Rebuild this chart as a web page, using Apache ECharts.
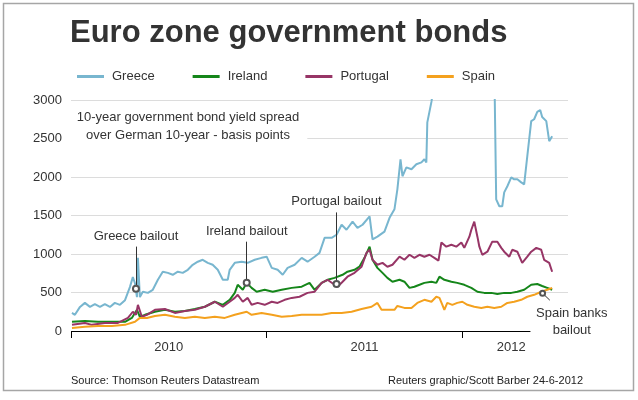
<!DOCTYPE html>
<html>
<head>
<meta charset="utf-8">
<title>Euro zone government bonds</title>
<script src="https://cdn.jsdelivr.net/npm/echarts@6/dist/echarts.min.js"></script>
<style>
html, body { margin: 0; padding: 0; background: #fff; }
#main { width: 638px; height: 400px; }
</style>
</head>
<body>
<div id="main"></div>
<script>
// spread over German 10-year, basis points; dates are decimal years
var NAMES = ['Greece', 'Ireland', 'Portugal', 'Spain'];
var COLORS = ['#78b6cf', '#15861a', '#973566', '#f4a11e'];

var greeceDates = [2010.005, 2010.020, 2010.046, 2010.071, 2010.097, 2010.122, 2010.148, 2010.173, 2010.199, 2010.224,
	2010.250, 2010.276, 2010.301, 2010.316, 2010.327, 2010.337, 2010.342, 2010.352, 2010.367, 2010.393,
	2010.418, 2010.444, 2010.469, 2010.495, 2010.520, 2010.546, 2010.571, 2010.597, 2010.622, 2010.648,
	2010.673, 2010.699, 2010.724, 2010.750, 2010.776, 2010.801, 2010.811, 2010.837, 2010.872, 2010.903,
	2010.939, 2010.974, 2011.000, 2011.026, 2011.056, 2011.082, 2011.107, 2011.143, 2011.179, 2011.209,
	2011.245, 2011.270, 2011.296, 2011.332, 2011.357, 2011.383, 2011.408, 2011.439, 2011.464, 2011.490,
	2011.526, 2011.541, 2011.566, 2011.602, 2011.628, 2011.653, 2011.668, 2011.684, 2011.694, 2011.714,
	2011.740, 2011.765, 2011.791, 2011.806, 2011.816, 2011.821, 2011.842, 2011.852, 2011.883, 2011.985,
	2012.087, 2012.163, 2012.173, 2012.189, 2012.204, 2012.214, 2012.230, 2012.250, 2012.265, 2012.281,
	2012.301, 2012.316, 2012.332, 2012.352, 2012.367, 2012.383, 2012.398, 2012.408, 2012.429, 2012.444,
	2012.459];
var greeceValues = [235, 210, 313, 365, 313, 350, 313, 350, 313, 365,
	340, 400, 570, 700, 620, 440, 950, 440, 510, 495,
	535, 665, 770, 755, 730, 770, 755, 795, 860, 900,
	925, 885, 860, 795, 665, 665, 795, 885, 900, 885,
	925, 950, 965, 820, 795, 730, 820, 860, 950, 900,
	965, 1015, 1210, 1210, 1250, 1380, 1315, 1420, 1340, 1380,
	1490, 1190, 1225, 1290, 1470, 1580, 1840, 2230, 2010, 2125,
	2100, 2165, 2190, 2230, 2190, 2710, 2975, 3150, 3400, 3600,
	3700, 3500, 1710, 1620, 1620, 1800, 1880, 1995, 1970, 1970,
	1930, 1905, 2270, 2725, 2750, 2845, 2870, 2780, 2725, 2465,
	2530];

var irelandDates = [2010.005, 2010.071, 2010.138, 2010.209, 2010.276, 2010.311, 2010.337, 2010.352, 2010.378, 2010.429,
	2010.480, 2010.531, 2010.582, 2010.633, 2010.684, 2010.735, 2010.776, 2010.811, 2010.837, 2010.852,
	2010.878, 2010.898, 2010.923, 2010.949, 2010.990, 2011.031, 2011.077, 2011.128, 2011.179, 2011.219,
	2011.245, 2011.281, 2011.311, 2011.347, 2011.388, 2011.413, 2011.449, 2011.474, 2011.500, 2011.526,
	2011.541, 2011.566, 2011.592, 2011.617, 2011.643, 2011.679, 2011.704, 2011.730, 2011.755, 2011.781,
	2011.806, 2011.842, 2011.867, 2011.883, 2011.908, 2011.944, 2011.974, 2012.010, 2012.046, 2012.077,
	2012.112, 2012.148, 2012.179, 2012.214, 2012.250, 2012.281, 2012.316, 2012.352, 2012.383, 2012.408,
	2012.434, 2012.459];
var irelandValues = [120, 130, 120, 120, 120, 170, 275, 185, 210, 250,
	275, 250, 260, 285, 315, 380, 340, 405, 495, 600,
	535, 625, 560, 510, 535, 510, 535, 560, 575, 625,
	535, 625, 665, 690, 730, 770, 795, 835, 950, 1095,
	925, 820, 755, 690, 640, 665, 640, 560, 575, 600,
	625, 640, 625, 705, 665, 640, 625, 600, 560, 510,
	495, 495, 480, 495, 495, 510, 535, 600, 610, 585,
	560, 535];

var portugalDates = [2010.005, 2010.071, 2010.107, 2010.173, 2010.240, 2010.291, 2010.316, 2010.332, 2010.342, 2010.362,
	2010.388, 2010.429, 2010.480, 2010.531, 2010.582, 2010.633, 2010.684, 2010.735, 2010.776, 2010.811,
	2010.837, 2010.852, 2010.878, 2010.903, 2010.923, 2010.954, 2010.990, 2011.026, 2011.056, 2011.092,
	2011.128, 2011.168, 2011.209, 2011.245, 2011.281, 2011.311, 2011.347, 2011.362, 2011.388, 2011.413,
	2011.449, 2011.485, 2011.510, 2011.526, 2011.541, 2011.566, 2011.592, 2011.617, 2011.643, 2011.679,
	2011.704, 2011.730, 2011.755, 2011.781, 2011.806, 2011.832, 2011.857, 2011.878, 2011.893, 2011.918,
	2011.944, 2011.969, 2011.995, 2012.010, 2012.036, 2012.046, 2012.061, 2012.077, 2012.087, 2012.102,
	2012.128, 2012.153, 2012.179, 2012.199, 2012.214, 2012.240, 2012.255, 2012.281, 2012.306, 2012.332,
	2012.352, 2012.378, 2012.403, 2012.418, 2012.444, 2012.459];
var portugalValues = [80, 105, 80, 105, 105, 170, 250, 210, 340, 185,
	210, 275, 285, 235, 260, 275, 315, 380, 315, 380,
	430, 470, 380, 430, 340, 365, 340, 380, 365, 405,
	430, 445, 495, 510, 625, 665, 600, 575, 640, 705,
	755, 835, 1015, 1055, 925, 860, 885, 835, 860, 965,
	925, 990, 950, 990, 965, 990, 950, 915, 1150, 1095,
	1120, 1095, 1150, 1080, 1225, 1315, 1420, 1225, 1095, 990,
	1030, 1160, 1160, 1080, 1030, 965, 1055, 1030, 885, 965,
	1030, 1080, 1055, 925, 885, 770];

var spainDates = [2010.005, 2010.071, 2010.138, 2010.209, 2010.276, 2010.327, 2010.352, 2010.388, 2010.429, 2010.480,
	2010.531, 2010.582, 2010.633, 2010.684, 2010.735, 2010.786, 2010.837, 2010.898, 2010.923, 2010.974,
	2011.026, 2011.077, 2011.128, 2011.179, 2011.230, 2011.281, 2011.332, 2011.383, 2011.434, 2011.485,
	2011.536, 2011.566, 2011.587, 2011.617, 2011.653, 2011.668, 2011.704, 2011.740, 2011.770, 2011.806,
	2011.842, 2011.867, 2011.883, 2011.898, 2011.908, 2011.923, 2011.949, 2011.974, 2012.000, 2012.026,
	2012.061, 2012.097, 2012.128, 2012.163, 2012.199, 2012.230, 2012.265, 2012.301, 2012.332, 2012.367,
	2012.403, 2012.434, 2012.459];
var spainValues = [40, 55, 65, 65, 80, 120, 170, 170, 195, 210,
	185, 170, 185, 170, 185, 170, 210, 250, 210, 235,
	210, 185, 195, 210, 210, 210, 235, 235, 250, 285,
	315, 365, 275, 275, 275, 325, 300, 300, 365, 405,
	380, 445, 430, 340, 275, 365, 340, 365, 380, 340,
	315, 300, 315, 300, 315, 365, 380, 405, 445, 470,
	510, 535, 560];

// annotations: date, top of the pointer line, point on the series
var noteLabels = ['Greece bailout', 'Ireland bailout', 'Portugal bailout'];
var noteDates = [2010.332, 2010.898, 2011.357];
var noteTops = [1096, 1160, 1540];
var notePoints = [548, 626, 610];

var YEAR_TICKS = [2010, 2011, 2012];
var YEAR_LABEL_AT = [2010.5, 2011.5, 2012.25];

var FONT = '"Liberation Sans", Arial, Helvetica, sans-serif';

function zip(dates, values){
	return dates.map(function(d, i){ return [d, values[i]]; });
}

var seriesData = [
	zip(greeceDates, greeceValues),
	zip(irelandDates, irelandValues),
	zip(portugalDates, portugalValues),
	zip(spainDates, spainValues)
];

var series = NAMES.map(function(name, i){
	return {
		name: name,
		type: 'line',
		data: seriesData[i],
		showSymbol: false,
		symbol: 'none',
		clip: true,
		lineStyle: { width: 2, color: COLORS[i] },
		itemStyle: { color: COLORS[i] }
	};
});

var lines = [
	// x axis line, stops before the last year ends
	[{ coord: [2010, 0], lineStyle: { color: '#000', width: 1 } }, { coord: [2012.348, 0] }],
	// spain pointer
	[{ coord: [2012.41, 490] }, { coord: [2012.447, 400] }]
];
var points = [];
noteLabels.forEach(function(txt, i){
	lines.push([{ coord: [noteDates[i], noteTops[i]] }, { coord: [noteDates[i], notePoints[i]] }]);
	points.push({
		coord: [noteDates[i], noteTops[i]],
		symbol: 'circle', symbolSize: 0,
		label: { show: true, position: 'top', distance: 4, formatter: txt }
	});
	points.push({
		coord: [noteDates[i], notePoints[i]],
		symbol: 'emptyCircle', symbolSize: 6,
		itemStyle: { color: '#555', borderWidth: 1 },
		label: { show: false }
	});
});
points.push({
	coord: [2012.41, 490],
	symbol: 'emptyCircle', symbolSize: 5,
	itemStyle: { color: '#555', borderWidth: 1 },
	label: { show: false }
});
points.push({
	coord: [2012.447, 400],
	symbol: 'circle', symbolSize: 0,
	label: { show: true, position: 'bottom', distance: 5, offset: [22, 0], lineHeight: 17, align: 'center', formatter: 'Spain banks\nbailout' }
});

series.push({
	name: 'notes',
	type: 'line',
	data: [],
	clip: false,
	silent: true,
	markLine: {
		silent: true,
		symbol: ['none', 'none'],
		label: { show: false },
		lineStyle: { color: '#333', width: 1, type: 'solid' },
		data: lines
	},
	markPoint: {
		silent: true,
		label: { fontSize: 13, color: '#333', fontFamily: FONT },
		data: points
	}
});

var gridColors = ['rgba(0,0,0,0)', '#dcdcdc', '#dcdcdc', '#dcdcdc', '#dcdcdc', '#dcdcdc', '#dcdcdc'];

var option = {
	animation: false,
	backgroundColor: '#fff',
	textStyle: { fontFamily: FONT },
	title: [
		{ text: 'Euro zone government bonds', left: 70, top: 18, padding: 0,
			textStyle: { fontSize: 31, fontWeight: 'bold', color: '#333', fontFamily: FONT } },
		{ text: '10-year government bond yield spread\nover German 10-year - basis points',
			left: 180, top: 105, padding: [3, 8, 3, 8], textAlign: 'center', backgroundColor: '#fff',
			textStyle: { fontSize: 13, fontWeight: 'normal', color: '#333', lineHeight: 18, fontFamily: FONT } },
		{ text: 'Source: Thomson Reuters Datastream', left: 71, top: 375, padding: 0,
			textStyle: { fontSize: 11, fontWeight: 'normal', color: '#222', fontFamily: FONT } },
		{ text: 'Reuters graphic/Scott Barber 24-6-2012', right: 55, top: 375, padding: 0,
			textStyle: { fontSize: 11, fontWeight: 'normal', color: '#222', fontFamily: FONT } }
	],
	legend: {
		data: NAMES,
		left: 77, top: 70, padding: 0,
		icon: 'rect', itemWidth: 27, itemHeight: 3, itemGap: 38,
		textStyle: { fontSize: 13, color: '#333', padding: [0, 0, 0, 3], fontFamily: FONT }
	},
	grid: { left: 71, right: 70, top: 100, bottom: 69 },
	xAxis: {
		type: 'value', min: 2010, max: 2012.54,
		axisLine: { show: false },
		splitLine: { show: false },
		axisTick: { show: true, customValues: YEAR_TICKS, length: 7, lineStyle: { color: '#000' } },
		axisLabel: {
			customValues: YEAR_LABEL_AT,
			formatter: function(v){ return String(Math.floor(v)); },
			fontSize: 13, color: '#333', margin: 10
		}
	},
	yAxis: {
		type: 'value', min: 0, max: 3000, interval: 500,
		axisLine: { show: false },
		axisTick: { show: false },
		axisLabel: { fontSize: 13, color: '#333', margin: 9, formatter: function(v){ return String(v); } },
		splitLine: { lineStyle: { color: gridColors, width: 1 } }
	},
	graphic: [{
		type: 'rect', silent: true, z: 100,
		shape: { x: 3.5, y: 3.5, width: 630, height: 387 },
		style: { fill: 'none', stroke: '#a6a6a6', lineWidth: 1.5 }
	}],
	series: series
};

var myChart = echarts.init(document.getElementById('main'));
myChart.setOption(option);
</script>
</body>
</html>
